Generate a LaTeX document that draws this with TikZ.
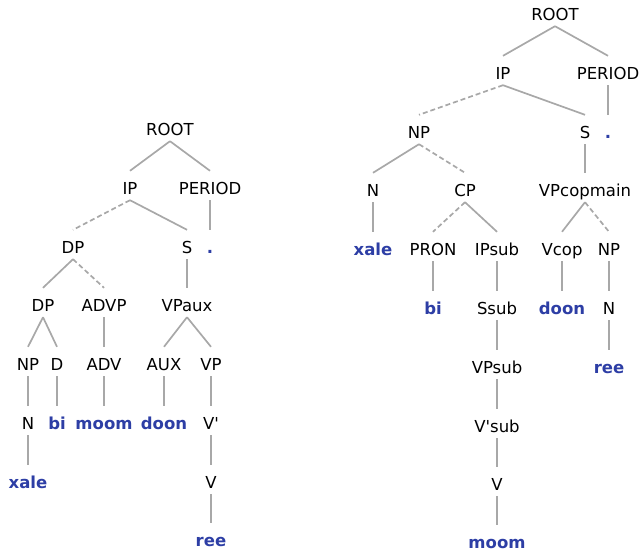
\documentclass[tikz,border=0pt]{standalone}
\usepackage{fontspec}
\setmainfont{DejaVu Sans}
\usepackage{xcolor}
\definecolor{leafblue}{RGB}{45,62,165}
\definecolor{branchgray}{RGB}{168,168,168}
\newcommand{\lf}[1]{\textcolor{leafblue}{\bfseries #1}}
\newcommand{\vbar}{V\textquotesingle}

\begin{document}
\begin{tikzpicture}[x=1pt,y=-1pt]
  \tikzset{cat/.style={anchor=base, inner xsep=2pt, inner ysep=3pt, text height=20pt, text depth=3pt,
                       font=\fontsize{16.5}{20}\selectfont},
           branch/.style={draw=branchgray, line width=1.7pt},
           gap/.style={branch, dash pattern=on 5pt off 3pt}}
  \useasboundingbox (0,0) rectangle (644,554);

  % left tree
  \node[cat] (ROOTl) at (170,135) {ROOT};
  \node[cat] (IPl) at (130,194) {IP};
  \node[cat] (PERIODl) at (210,194) {PERIOD};
  \node[cat] (DPl) at (73,253) {DP};
  \node[cat] (Sl) at (187,253) {S};
  \node[cat] (DOTl) at (210,253) {\lf{.}};
  \node[cat] (DPDPl) at (43,311) {DP};
  \node[cat] (ADVPl) at (104,311) {ADVP};
  \node[cat] (VPauxl) at (187,311) {VPaux};
  \node[cat] (NPl) at (28,370) {NP};
  \node[cat] (Dl) at (57,370) {D};
  \node[cat] (ADVl) at (104,370) {ADV};
  \node[cat] (AUXl) at (164,370) {AUX};
  \node[cat] (VPl) at (211,370) {VP};
  \node[cat] (Nl) at (28,429) {N};
  \node[cat] (bil) at (57,429) {\lf{bi}};
  \node[cat] (mooml) at (104,429) {\lf{moom}};
  \node[cat] (doonl) at (164,429) {\lf{doon}};
  \node[cat] (Vbarl) at (211,429) {\vbar};
  \node[cat] (xalel) at (28,488) {\lf{xale}};
  \node[cat] (Vl) at (211,488) {V};
  \node[cat] (reel) at (211,546) {\lf{ree}};

  \draw[branch] (ROOTl.south) -- (IPl.north);
  \draw[branch] (ROOTl.south) -- (PERIODl.north);
  \draw[gap] (IPl.south) -- (DPl.north);
  \draw[branch] (IPl.south) -- (Sl.north);
  \draw[branch] (PERIODl.south) -- (DOTl.north);
  \draw[branch] (DPl.south) -- (DPDPl.north);
  \draw[gap] (DPl.south) -- (ADVPl.north);
  \draw[branch] (Sl.south) -- (VPauxl.north);
  \draw[branch] (DPDPl.south) -- (NPl.north);
  \draw[branch] (DPDPl.south) -- (Dl.north);
  \draw[branch] (ADVPl.south) -- (ADVl.north);
  \draw[branch] (VPauxl.south) -- (AUXl.north);
  \draw[branch] (VPauxl.south) -- (VPl.north);
  \draw[branch] (NPl.south) -- (Nl.north);
  \draw[branch] (Dl.south) -- (bil.north);
  \draw[branch] (ADVl.south) -- (mooml.north);
  \draw[branch] (AUXl.south) -- (doonl.north);
  \draw[branch] (VPl.south) -- (Vbarl.north);
  \draw[branch] (Nl.south) -- (xalel.north);
  \draw[branch] (Vbarl.south) -- (Vl.north);
  \draw[branch] (Vl.south) -- (reel.north);

  % right tree
  \node[cat] (ROOTr) at (555,20) {ROOT};
  \node[cat] (IPr) at (503,79) {IP};
  \node[cat] (PERIODr) at (608,79) {PERIOD};
  \node[cat] (NPr) at (419,138) {NP};
  \node[cat] (Sr) at (585,138) {S};
  \node[cat] (DOTr) at (608,138) {\lf{.}};
  \node[cat] (Nr) at (373,196) {N};
  \node[cat] (CPr) at (465,196) {CP};
  \node[cat] (VPcopmainr) at (585,196) {VPcopmain};
  \node[cat] (xaler) at (373,255) {\lf{xale}};
  \node[cat] (PRONr) at (433,255) {PRON};
  \node[cat] (IPsubr) at (497,255) {IPsub};
  \node[cat] (Vcopr) at (562,255) {Vcop};
  \node[cat] (NPNPr) at (609,255) {NP};
  \node[cat] (bir) at (433,314) {\lf{bi}};
  \node[cat] (Ssubr) at (497,314) {Ssub};
  \node[cat] (doonr) at (562,314) {\lf{doon}};
  \node[cat] (NNr) at (609,314) {N};
  \node[cat] (VPsubr) at (497,373) {VPsub};
  \node[cat] (reer) at (609,373) {\lf{ree}};
  \node[cat] (Vbarsubr) at (497,432) {\vbar sub};
  \node[cat] (Vr) at (497,490) {V};
  \node[cat] (moomr) at (497,548) {\lf{moom}};

  \draw[branch] (ROOTr.south) -- (IPr.north);
  \draw[branch] (ROOTr.south) -- (PERIODr.north);
  \draw[gap] (IPr.south) -- (NPr.north);
  \draw[branch] (IPr.south) -- (Sr.north);
  \draw[branch] (PERIODr.south) -- (DOTr.north);
  \draw[branch] (NPr.south) -- (Nr.north);
  \draw[gap] (NPr.south) -- (CPr.north);
  \draw[branch] (Sr.south) -- (VPcopmainr.north);
  \draw[branch] (Nr.south) -- (xaler.north);
  \draw[gap] (CPr.south) -- (PRONr.north);
  \draw[branch] (CPr.south) -- (IPsubr.north);
  \draw[branch] (VPcopmainr.south) -- (Vcopr.north);
  \draw[gap] (VPcopmainr.south) -- (NPNPr.north);
  \draw[branch] (PRONr.south) -- (bir.north);
  \draw[branch] (IPsubr.south) -- (Ssubr.north);
  \draw[branch] (Vcopr.south) -- (doonr.north);
  \draw[branch] (NPNPr.south) -- (NNr.north);
  \draw[branch] (Ssubr.south) -- (VPsubr.north);
  \draw[branch] (NNr.south) -- (reer.north);
  \draw[branch] (VPsubr.south) -- (Vbarsubr.north);
  \draw[branch] (Vbarsubr.south) -- (Vr.north);
  \draw[branch] (Vr.south) -- (moomr.north);

\end{tikzpicture}
\end{document}
